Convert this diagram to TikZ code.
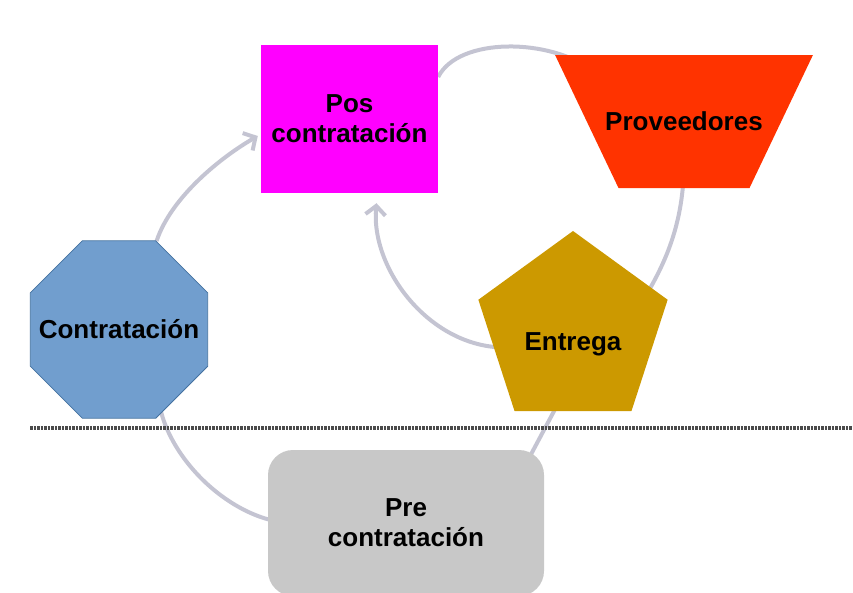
\documentclass[tikz,border=0pt]{standalone}
\usepackage{fontspec}
\setmainfont{Liberation Sans}
\usepackage{tikz}
\usetikzlibrary{arrows.meta,shapes.geometric,backgrounds}

\definecolor{posfill}{RGB}{255,0,255}
\definecolor{provfill}{RGB}{255,51,0}
\definecolor{octfill}{RGB}{113,158,206}
\definecolor{octline}{RGB}{68,114,160}
\definecolor{entfill}{RGB}{204,153,0}
\definecolor{prefill}{RGB}{200,200,200}
\definecolor{arcgray}{RGB}{196,196,210}
\definecolor{sepline}{RGB}{75,75,75}

\begin{document}
\begin{tikzpicture}[
  x=1pt, y=-1pt, >=Stealth,
  font=\bfseries\fontsize{26}{30}\selectfont,
  blk/.style={rectangle,inner sep=0pt,align=center},
  poly/.style={regular polygon,inner sep=0pt},
  arc/.style={draw=arcgray,line width=4pt},
  tip/.style={-{Straight Barb[length=9pt,width=20pt]}}
]
\useasboundingbox (0,0) rectangle (853,592);

% Top row
\node[blk, fill=posfill, minimum width=177pt, minimum height=148pt] (pos)
      at (349.5,119) {Pos\\contratación};
\node[trapezium, trapezium left angle=64.5, trapezium right angle=64.5,
      shape border rotate=180, fill=provfill, inner xsep=65.5pt, inner ysep=66.5pt,
      label={center:Proveedores}] (prov) at (684,121.5) {};

% Middle row
\node[poly, regular polygon sides=8, minimum size=192pt,
      fill=octfill, draw=octline, line width=0.8pt,
      label={center:Contratación}] (contr) at (119,329.5) {};
\node[poly, regular polygon sides=5, minimum size=199pt, fill=entfill,
      label={[yshift=-14pt]center:Entrega}] (ent) at (573,330.5) {};

% Bottom row
\node[blk, fill=prefill, minimum width=276pt, minimum height=146pt,
      rounded corners=25pt] (pre) at (406,523) {Pre\\contratación};

% Cycle arcs (behind the shapes)
\begin{scope}[on background layer]
\draw[arc,tip] (contr.67) .. controls +(15,-45) and +(-35,20) .. ([yshift=-17pt,xshift=-3pt]pos.west);
\draw[arc] ([yshift=42pt]pos.east) .. controls +(20,-40) and +(-44,-34) .. ([shift={(-90pt,50pt)}]prov.center);
\draw[arc] ([yshift=-40pt]prov.center) .. controls +(0,70) and +(30,-45) .. ([shift={(57pt,10pt)}]ent.center);
\draw[arc,tip] ([shift={(-68pt,-17pt)}]ent.center) .. controls +(-75,0) and +(-6,66) .. ([xshift=27pt,yshift=-10pt]pos.south);
\draw[arc] ([shift={(114pt,48pt)}]pre.center) -- ([shift={(-8pt,-60pt)}]ent.center);
\draw[arc] ([shift={(39pt,-65pt)}]contr.center) .. controls +(5,60) and +(-60,-5) .. ([xshift=20pt]pre.west);
\end{scope}

% Separator
\draw[sepline, line width=3.5pt, dash pattern=on 2.5pt off 1pt] (30,428) -- (853,428);
\end{tikzpicture}
\end{document}
